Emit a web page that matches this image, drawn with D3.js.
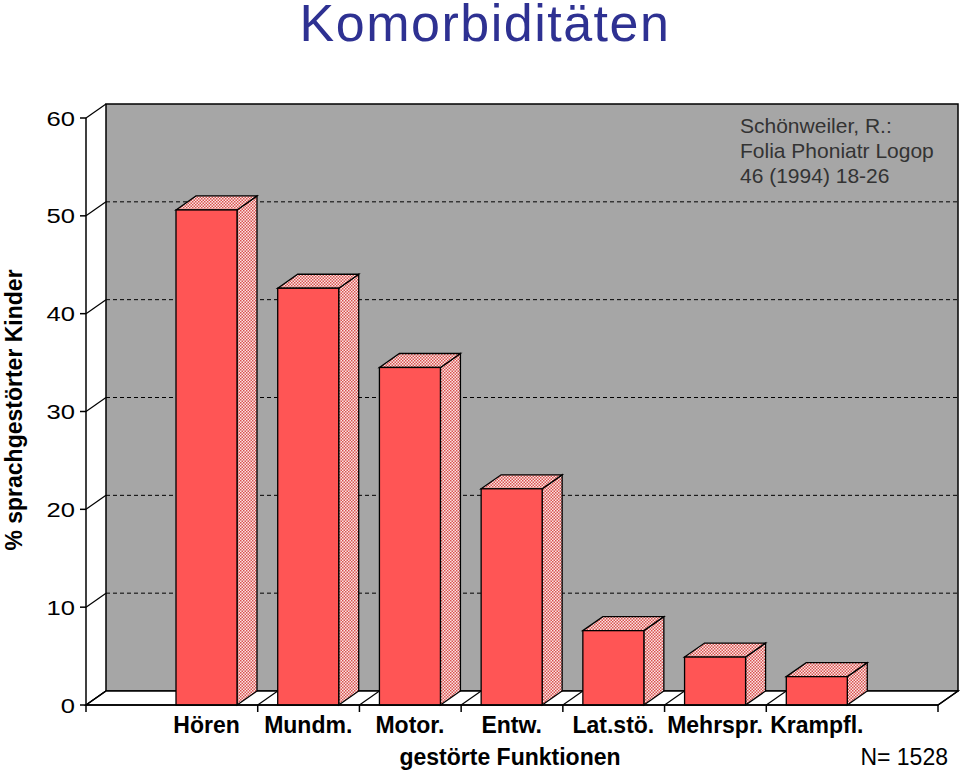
<!DOCTYPE html>
<html>
<head>
<meta charset="utf-8">
<script src="https://cdn.jsdelivr.net/npm/d3@7"></script>
<style>
  html, body { margin: 0; padding: 0; background: #fff; }
  svg { display: block; }
  text { font-family: "Liberation Sans", Arial, Helvetica, sans-serif; }
</style>
</head>
<body>
<svg id="chart" width="960" height="770"></svg>
<script>
// ---- data ----
const categories = ["Hören", "Mundm.", "Motor.", "Entw.", "Lat.stö.", "Mehrspr.", "Krampfl."];
const values = [50.6, 42.6, 34.5, 22.1, 7.6, 4.9, 2.9];
const yTicks = [0, 10, 20, 30, 40, 50, 60];
const titleText = "Komorbiditäten";
const yTitle = "% sprachgestörter Kinder";
const xTitle = "gestörte Funktionen";
const noteLines = ["Schönweiler, R.:", "Folia Phoniatr Logop", "46 (1994) 18-26"];
const nText = "N= 1528";

// ---- layout ----
const svg = d3.select("#chart");
const axisX = 86, axisEnd = 938;
const dx = 20, dy = -14;
const y = d3.scaleLinear().domain([0, 60]).range([705, 118]);
const x = d3.scaleBand().domain(categories).range([156, 868]).paddingInner(0).paddingOuter(0);
const barOffset = 20, barW = 61;

const defs = svg.append("defs");
const pat = defs.append("pattern").attr("id", "hatch").attr("patternUnits", "userSpaceOnUse")
  .attr("width", 3).attr("height", 3);
pat.append("rect").attr("width", 3).attr("height", 3).attr("fill", "#fbe6e6");
pat.append("rect").attr("x", 0).attr("y", 0).attr("width", 1.5).attr("height", 1.5).attr("fill", "#d9534f");
pat.append("rect").attr("x", 1.5).attr("y", 1.5).attr("width", 1.5).attr("height", 1.5).attr("fill", "#d9534f");

// title
svg.append("text").attr("x", 485).attr("y", 41).attr("text-anchor", "middle")
  .attr("font-size", 52).attr("letter-spacing", 1.5).attr("fill", "#2e3192").text(titleText);

// back wall
const y0 = y(0), y60 = y(60);
svg.append("rect").attr("x", axisX + dx).attr("y", y60 + dy)
  .attr("width", axisEnd - axisX).attr("height", y0 - y60)
  .attr("fill", "#a6a6a6").attr("stroke", "#000").attr("stroke-width", 1.5);

// gridlines on wall + diagonal tick connectors
yTicks.forEach(t => {
  const yy = y(t);
  if (t > 0 && t < 60) {
    svg.append("line").attr("x1", axisX + dx).attr("x2", axisEnd + dx)
      .attr("y1", yy + dy).attr("y2", yy + dy)
      .attr("stroke", "#000").attr("stroke-width", 1).attr("stroke-dasharray", "4,3");
  }
  svg.append("line").attr("x1", axisX).attr("y1", yy).attr("x2", axisX + dx).attr("y2", yy + dy)
    .attr("stroke", "#000").attr("stroke-width", 1.2);
  svg.append("line").attr("x1", axisX - 6).attr("x2", axisX).attr("y1", yy).attr("y2", yy)
    .attr("stroke", "#000").attr("stroke-width", 1.5);
  svg.append("text").attr("transform", `translate(75,${yy + 7.5}) scale(1.22,1)`)
    .attr("text-anchor", "end")
    .attr("font-size", 21).attr("fill", "#000").text(t);
});

// floor
svg.append("path")
  .attr("d", `M${axisX},${y0} L${axisX + dx},${y0 + dy} L${axisEnd + dx},${y0 + dy} L${axisEnd},${y0} Z`)
  .attr("fill", "#fff").attr("stroke", "#000").attr("stroke-width", 1.5);

// category boundary positions
const bounds = [axisX].concat(categories.slice(1).map(c => x(c))).concat([axisEnd]);
bounds.forEach(b => {
  svg.append("line").attr("x1", b).attr("y1", y0).attr("x2", b + dx).attr("y2", y0 + dy)
    .attr("stroke", "#000").attr("stroke-width", 1.2);
  svg.append("line").attr("x1", b).attr("y1", y0).attr("x2", b).attr("y2", y0 + 7)
    .attr("stroke", "#000").attr("stroke-width", 1.5);
});

// y axis line
svg.append("line").attr("x1", axisX).attr("x2", axisX).attr("y1", y60).attr("y2", y0)
  .attr("stroke", "#000").attr("stroke-width", 1.5);

// bars
const bars = svg.append("g");
categories.forEach((c, i) => {
  const x0 = x(c) + barOffset, x1 = x0 + barW;
  const yt = y(values[i]);
  // side
  bars.append("path")
    .attr("d", `M${x1},${y0} L${x1},${yt} L${x1 + dx},${yt + dy} L${x1 + dx},${y0 + dy} Z`)
    .attr("fill", "url(#hatch)").attr("stroke", "#000").attr("stroke-width", 1.3);
  // top
  bars.append("path")
    .attr("d", `M${x0},${yt} L${x0 + dx},${yt + dy} L${x1 + dx},${yt + dy} L${x1},${yt} Z`)
    .attr("fill", "url(#hatch)").attr("stroke", "#000").attr("stroke-width", 1.3);
  // front
  bars.append("rect").attr("x", x0).attr("y", yt).attr("width", barW).attr("height", y0 - yt)
    .attr("fill", "#ff5555").attr("stroke", "#000").attr("stroke-width", 1.3);
  // label
  svg.append("text").attr("x", x0 + barW / 2).attr("y", 733).attr("text-anchor", "middle")
    .attr("font-size", 23).attr("font-weight", "bold").attr("fill", "#000").text(c);
});

// x axis front line
svg.append("line").attr("x1", axisX).attr("x2", axisEnd).attr("y1", y0).attr("y2", y0)
  .attr("stroke", "#000").attr("stroke-width", 1.5);

// axis titles
svg.append("text").attr("transform", "translate(22,410) rotate(-90)").attr("text-anchor", "middle")
  .attr("font-size", 23).attr("font-weight", "bold").attr("fill", "#000").text(yTitle);
svg.append("text").attr("x", 510).attr("y", 765).attr("text-anchor", "middle")
  .attr("font-size", 23).attr("font-weight", "bold").attr("fill", "#000").text(xTitle);
svg.append("text").attr("x", 948).attr("y", 765).attr("text-anchor", "end")
  .attr("font-size", 23).attr("fill", "#000").text(nText);

// note
noteLines.forEach((l, i) => {
  svg.append("text").attr("x", 740).attr("y", 133 + i * 25)
    .attr("font-size", 21).attr("fill", "#333").text(l);
});
</script>
</body>
</html>
